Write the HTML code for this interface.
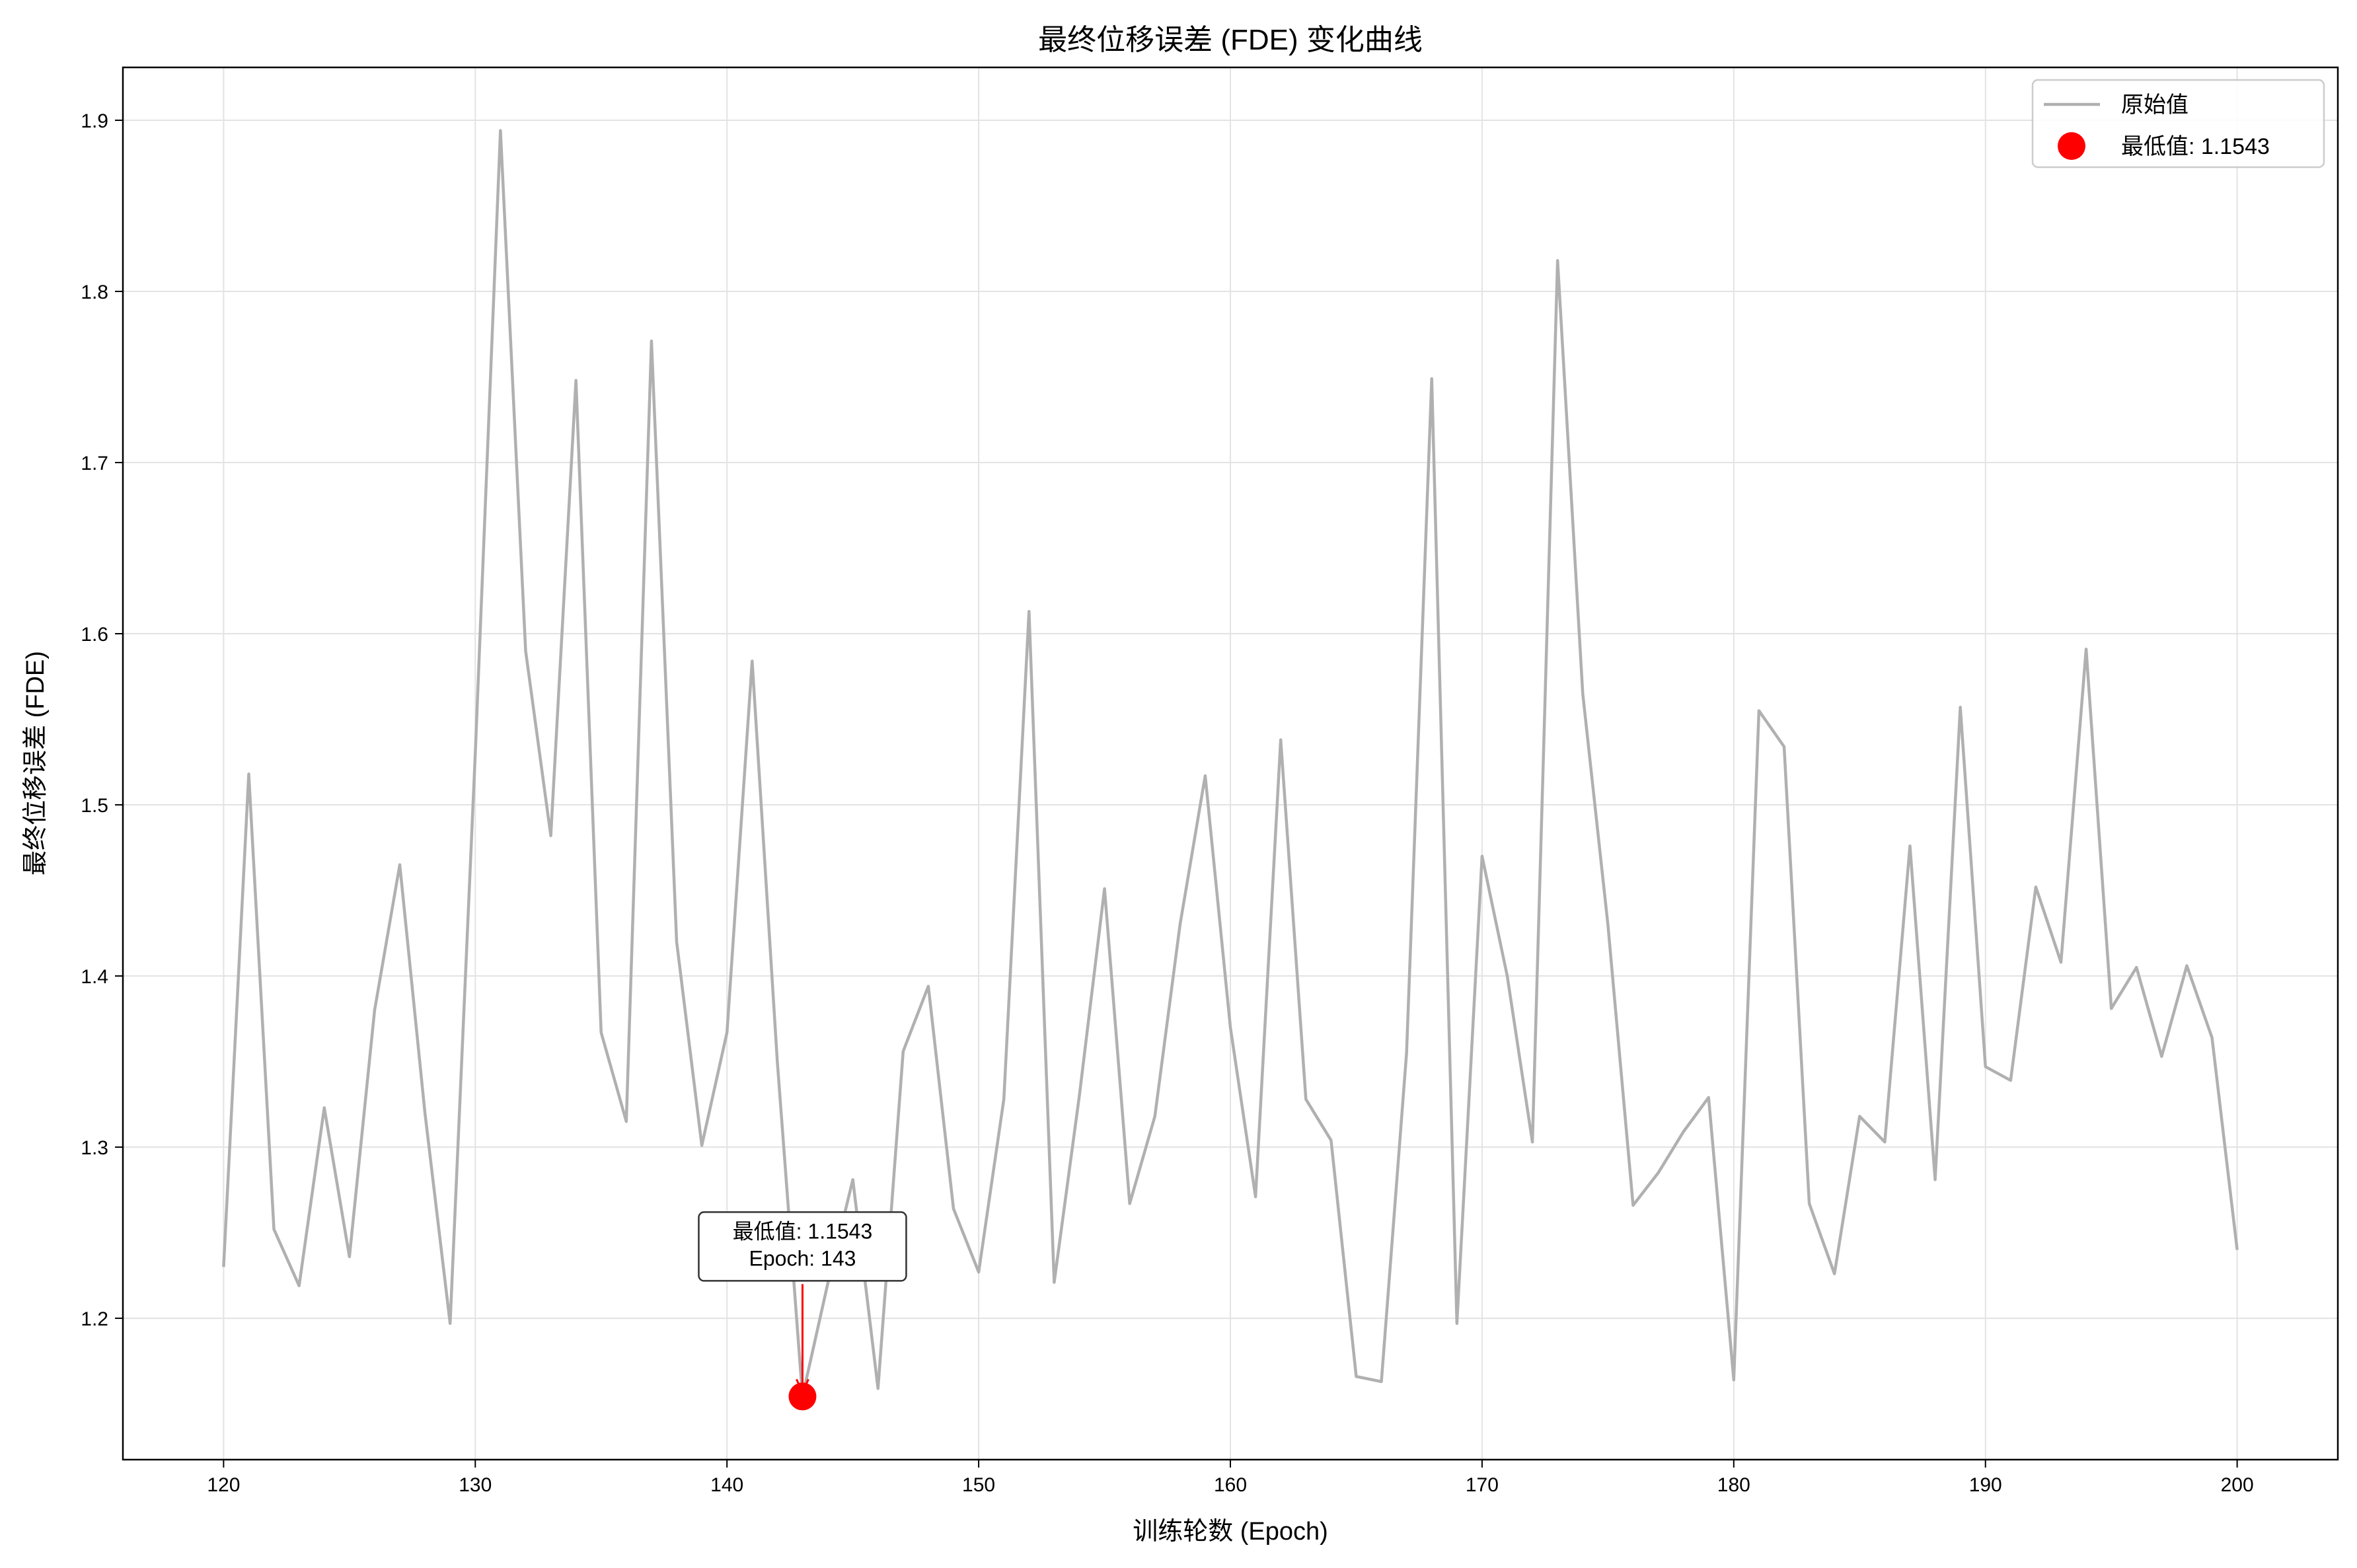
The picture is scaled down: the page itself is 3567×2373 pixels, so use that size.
<!DOCTYPE html>
<html><head><meta charset="utf-8"><style>
body{margin:0;background:#fff}
svg text{font-family:"Liberation Sans","Noto Sans CJK SC",sans-serif;fill:#000}
</style></head><body>
<svg id="chart" width="3567" height="2368" xmlns="http://www.w3.org/2000/svg">
<rect width="3567" height="2368" fill="#fff"/>
<g id="grid"></g>
<g id="series"></g>
<rect x="186" y="102" width="3352" height="2107" fill="none" stroke="#000" stroke-width="2.5"/>
<g id="ticks"></g>
<text x="1862" y="75" font-size="44" text-anchor="middle">最终位移误差 (FDE) 变化曲线</text>
<text x="1862" y="2330" font-size="38" text-anchor="middle">训练轮数 (Epoch)</text>
<text x="0" y="0" font-size="38" text-anchor="middle" transform="translate(66,1155) rotate(-90)">最终位移误差 (FDE)</text>
<g>
<rect x="3076" y="121" width="441" height="132" rx="8" fill="#fff" fill-opacity="0.85" stroke="#ccc" stroke-width="2.5"/>
<line x1="3093" y1="158" x2="3178" y2="158" stroke="#b0b0b0" stroke-width="4.5"/>
<text x="3210" y="170" font-size="34">原始值</text>
<circle cx="3135" cy="221" r="21" fill="#ff0000"/>
<text x="3210" y="233" font-size="34">最低值: 1.1543</text>
</g>
<g id="annot"></g>
</svg>
<script>
const epochs=[];for(let e=120;e<=200;e++)epochs.push(e);
const fdeValues=[1.23,1.518,1.252,1.219,1.323,1.236,1.38,1.465,1.32,1.197,1.53,1.894,1.59,1.482,1.748,1.367,1.315,1.771,1.42,1.301,1.367,1.584,1.35,1.1543,1.22,1.281,1.159,1.356,1.394,1.264,1.227,1.328,1.613,1.221,1.33,1.451,1.267,1.318,1.43,1.517,1.37,1.271,1.538,1.328,1.304,1.166,1.163,1.355,1.749,1.197,1.47,1.40,1.303,1.818,1.565,1.43,1.266,1.285,1.309,1.329,1.164,1.555,1.534,1.267,1.226,1.318,1.303,1.476,1.281,1.557,1.347,1.339,1.452,1.408,1.591,1.381,1.405,1.353,1.406,1.364,1.24];
const xTicks=[120,130,140,150,160,170,180,190,200];
const yTicks=[1.2,1.3,1.4,1.5,1.6,1.7,1.8,1.9];
const NS="http://www.w3.org/2000/svg";
const L=186,R=3538,T=102,B=2209;
const xMin=116,xMax=204,yMin=1.1174,yMax=1.9309;
const xs=v=>L+(v-xMin)/(xMax-xMin)*(R-L);
const ys=v=>B-(v-yMin)/(yMax-yMin)*(B-T);
function mk(tag,attrs,parent){const e=document.createElementNS(NS,tag);for(const k in attrs)e.setAttribute(k,attrs[k]);parent.appendChild(e);return e;}
const grid=document.getElementById('grid'),ticks=document.getElementById('ticks');
xTicks.forEach(t=>{
 const g=mk('line',{x1:xs(t),x2:xs(t),y1:T,y2:B,stroke:'#e3e3e3','stroke-width':2},grid);
 
 
 const tk=mk('line',{x1:xs(t),x2:xs(t),y1:B,y2:B+12,stroke:'#000','stroke-width':2},ticks);
 
 
 const tx=mk('text',{x:xs(t),y:B+48,'font-size':30,'text-anchor':'middle'},ticks);tx.textContent=t;
 
 
});
yTicks.forEach(t=>{
 const g=mk('line',{x1:L,x2:R,y1:ys(t),y2:ys(t),stroke:'#e3e3e3','stroke-width':2},grid);
 
 
 const tk=mk('line',{x1:L-12,x2:L,y1:ys(t),y2:ys(t),stroke:'#000','stroke-width':2},ticks);
 
 
 const tx=mk('text',{x:L-22,y:ys(t)+11,'font-size':30,'text-anchor':'end'},ticks);tx.textContent=t.toFixed(1);
 
 
});
const series=document.getElementById('series');
const pts=epochs.map((e,i)=>xs(e)+','+ys(fdeValues[i])).join(' ');
const pl=mk('polyline',{points:pts,fill:'none',stroke:'#b0b0b0','stroke-width':4.5,'stroke-linejoin':'round'},series);


let mi=0;fdeValues.forEach((v,i)=>{if(v<fdeValues[mi])mi=i;});
const mx=xs(epochs[mi]),my=ys(fdeValues[mi]);
const an=document.getElementById('annot');
const box=mk('rect',{x:mx-157,y:my-279,width:314,height:104,rx:8,fill:'#fff',stroke:'#333','stroke-width':2.5},an);


const t1=mk('text',{x:mx,y:my-239,'font-size':32,'text-anchor':'middle'},an);t1.textContent='最低值: '+fdeValues[mi].toFixed(4);


const t2=mk('text',{x:mx,y:my-198,'font-size':32,'text-anchor':'middle'},an);t2.textContent='Epoch: '+epochs[mi];


const ar=mk('line',{x1:mx,y1:my-170,x2:mx,y2:my-8,stroke:'#ff0000','stroke-width':3},an);


const ah=mk('path',{d:`M${mx-9} ${my-26} L${mx} ${my-6} L${mx+9} ${my-26}`,fill:'none',stroke:'#ff0000','stroke-width':3},an);


const dot=mk('circle',{cx:mx,cy:my,r:21,fill:'#ff0000'},an);


</script>
</body></html>
